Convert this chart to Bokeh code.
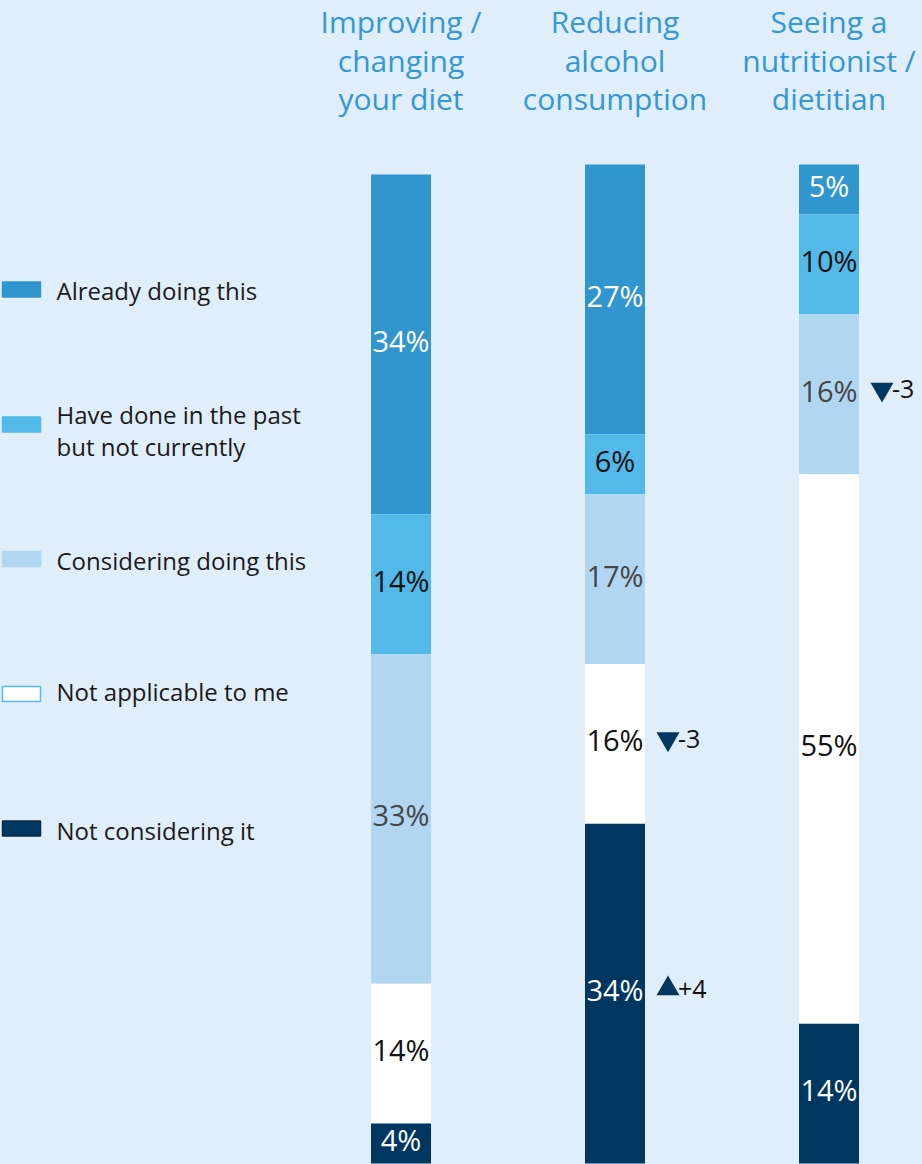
from bokeh.plotting import figure
from bokeh.models import Range1d, ColumnDataSource, GlobalInlineStyleSheet
from bokeh.core.properties import value
from bokeh.embed import file_html
from bokeh.resources import INLINE

# ---------------- data ----------------
header_lines = [
    ["Improving /", "changing", "your diet"],
    ["Reducing", "alcohol", "consumption"],
    ["Seeing a", "nutritionist /", "dietitian"],
]
series_names = [
    ["Already doing this"],
    ["Have done in the past", "but not currently"],
    ["Considering doing this"],
    ["Not applicable to me"],
    ["Not considering it"],
]
already = [34, 27, 5]
have_done = [14, 6, 10]
considering = [33, 17, 16]
not_applicable = [14, 16, 55]
not_considering = [4, 34, 14]

# significant changes: (bar index, series index, change)
change_bar = [1, 1, 2]
change_series = [3, 4, 2]
change_value = [-3, 4, -3]

# ---------------- styles ----------------
BG = "#e0eef9"
colors = ["#3195ce", "#52b9e9", "#b0d6f2", "#ffffff", "#003761"]
label_colors = ["#ffffff", "#111111", "#454545", "#111111", "#ffffff"]
legend_lines = ["#3195ce", "#52b9e9", "#b0d6f2", "#5ab9ea", "#0d2a44"]
HEADER_COLOR = "#3398d4"
FONT = "Open Sans"

W, H = 922, 1164
BASE = 1163.0     # page y of 0 %
PX_PER_PCT = 9.99
X0 = 400.5        # page x of first bar centre
DX = 214.0        # spacing between bar centres (page px)
BAR_W = 60.0


def X(sx):
    return (sx - X0) / DX


def Y(sy):
    return (BASE - sy) / PX_PER_PCT


p = figure(width=W, height=H, output_backend="svg", toolbar_location=None,
           x_range=Range1d(X(0), X(W)), y_range=Range1d(Y(H), Y(0)),
           min_border=0, outline_line_color=None,
           background_fill_color=BG, border_fill_color=BG)
p.axis.visible = False
p.grid.visible = False
p.stylesheets = [GlobalInlineStyleSheet(css=f"html, body {{ background: {BG}; }}")]

# ---------------- stacked bars ----------------
series_vals = [already, have_done, considering, not_applicable, not_considering]
n = len(already)
tops = {}
bottoms = {}
cum = [0.0] * n
for si in reversed(range(len(series_vals))):
    vals = series_vals[si]
    bottoms[si] = list(cum)
    cum = [c + v for c, v in zip(cum, vals)]
    tops[si] = list(cum)

xs = list(range(n))
for si, vals in enumerate(series_vals):
    src = ColumnDataSource(dict(x=xs, bottom=bottoms[si], top=tops[si],
                                mid=[(b + t) / 2 for b, t in zip(bottoms[si], tops[si])],
                                lab=[f"{v}%" for v in vals]))
    p.vbar(x="x", bottom="bottom", top="top", width=BAR_W / DX, source=src,
           fill_color=colors[si], line_color=None)
    p.text(x="x", y="mid", text="lab", source=src, text_align="center",
           text_baseline="middle", text_font=value(FONT), text_font_size="29px",
           text_color=label_colors[si], y_offset=-4)

# ---------------- change markers ----------------
tri_x, tri_y, tri_m, ch_txt, txt_x = [], [], [], [], []
for b, s, c in zip(change_bar, change_series, change_value):
    mid = (bottoms[s][b] + tops[s][b]) / 2
    tri_x.append(b + 53 / DX)
    txt_x.append(b + 63 / DX)
    tri_y.append(mid + 5 / PX_PER_PCT)
    tri_m.append("triangle" if c > 0 else "inverted_triangle")
    ch_txt.append(f"+{c}" if c > 0 else f"{c}")
csrc = ColumnDataSource(dict(x=tri_x, tx=txt_x, y=tri_y, m=tri_m, t=ch_txt))
p.scatter(x="x", y="y", marker="m", source=csrc, size=23, fill_color="#003761",
          line_color=None)
p.text(x="tx", y="y", text="t", source=csrc, text_align="left", text_baseline="middle",
       text_font=value(FONT), text_font_size="25px", text_color="#111111")

# ---------------- headers ----------------
hx, hy, ht = [], [], []
for i, lines in enumerate(header_lines):
    for j, line in enumerate(lines):
        hx.append(i)
        hy.append(Y(21 + 38.5 * j))
        ht.append(line)
p.text(x=hx, y=hy, text=ht, text_align="center", text_baseline="middle",
       text_font=value(FONT), text_font_size="30px", text_color=HEADER_COLOR)

# ---------------- legend ----------------
legend_box_cy = [289, 424, 558.5, 693.5, 828]
legend_text_cy = [[290], [414, 446], [560], [691], [830]]
for si in range(len(series_names)):
    cy = legend_box_cy[si]
    p.quad(left=X(2), right=X(40), top=Y(cy - 7.5), bottom=Y(cy + 7.5),
           fill_color=colors[si], line_color=legend_lines[si], line_width=1.5)
    for line, tcy in zip(series_names[si], legend_text_cy[si]):
        p.text(x=[X(56)], y=[Y(tcy)], text=[line], text_align="left",
               text_baseline="middle", text_font=value(FONT),
               text_font_size="24px", text_color="#1a1a1a")

open("out.html", "w").write(file_html(p, INLINE))
